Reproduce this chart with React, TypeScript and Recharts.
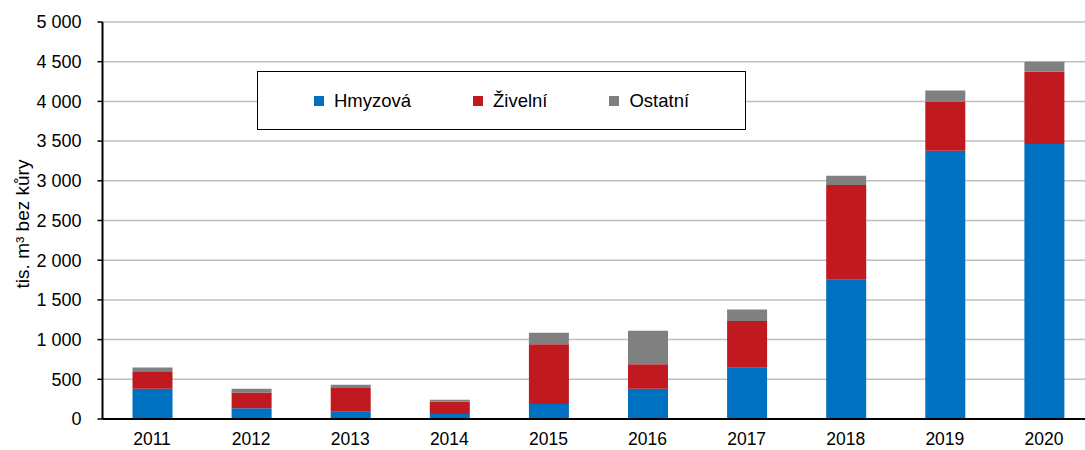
import { BarChart, Bar, XAxis, YAxis, CartesianGrid, Legend } from "recharts";

const years = ["2011", "2012", "2013", "2014", "2015", "2016", "2017", "2018", "2019", "2020"];
const hmyzova = [380, 135, 92, 63, 190, 382, 647, 1755, 3380, 3465];
const zivelni = [220, 200, 298, 155, 750, 306, 587, 1193, 620, 910];
const ostatni = [50, 47, 42, 25, 147, 424, 144, 117, 137, 125];
const yTicks = [0, 500, 1000, 1500, 2000, 2500, 3000, 3500, 4000, 4500, 5000];

const series = [
  { key: "hmyzova", name: "Hmyzová", color: "#0070C0" },
  { key: "zivelni", name: "Živelní", color: "#C0191F" },
  { key: "ostatni", name: "Ostatní", color: "#808080" },
];

const data = years.map((year, i) => ({
  year,
  hmyzova: hmyzova[i],
  zivelni: zivelni[i],
  ostatni: ostatni[i],
}));

const font = "'Liberation Sans', Arial, sans-serif";

const fmt = (v: number) => (v >= 1000 ? `${Math.floor(v / 1000)}\u00a0${String(v % 1000).padStart(3, "0")}` : String(v));

function LegendBox() {
  return (
    <div
      style={{
        boxSizing: "border-box",
        width: 489,
        height: 59,
        border: "1.5px solid #000",
        background: "#fff",
        display: "flex",
        alignItems: "center",
        justifyContent: "center",
        gap: 62,
        fontFamily: font,
        fontSize: 18.5,
        color: "#000",
      }}
    >
      {series.map((s) => (
        <div key={s.key} style={{ display: "flex", alignItems: "center" }}>
          <span style={{ width: 10, height: 10, background: s.color, marginRight: 10 }} />
          <span>{s.name}</span>
        </div>
      ))}
    </div>
  );
}

export default function App() {
  return (
    <div style={{ position: "fixed", left: 0, top: 0, width: 1085, height: 450, overflow: "hidden", background: "#fff" }}>
      <BarChart width={1100} height={450} data={data} margin={{ top: 22, right: 6.5, left: 0, bottom: 0 }}>
        <CartesianGrid vertical={false} stroke="#c0c0c0" strokeWidth={1.5} />
        <XAxis
          dataKey="year"
          height={31}
          tickLine={false}
          tickSize={0}
          tickMargin={14}
          axisLine={{ stroke: "#000", strokeWidth: 2 }}
          tick={{ fill: "#000", fontSize: 17.5, fontFamily: font }}
        />
        <YAxis
          width={102.5}
          domain={[0, 5000]}
          ticks={yTicks}
          interval={0}
          tickFormatter={fmt}
          tickSize={5}
          tickMargin={16}
          tickLine={{ stroke: "#000", strokeWidth: 1.5 }}
          axisLine={{ stroke: "#000", strokeWidth: 2 }}
          tick={{ fill: "#000", fontSize: 18, fontFamily: font }}
          label={{
            content: () => (
              <text
                x={22}
                y={224}
                transform="rotate(-90 22 224)"
                textAnchor="middle"
                dominantBaseline="central"
                fontSize={19}
                fontFamily={font}
                fill="#000"
              >
                tis. m³ bez kůry
              </text>
            ),
          }}
        />
        <Legend
          layout="horizontal"
          verticalAlign="middle"
          align="center"
          wrapperStyle={{ left: 257, top: 71, width: 489, height: 59 }}
          content={() => <LegendBox />}
        />
        {series.map((s) => (
          <Bar key={s.key} dataKey={s.key} name={s.name} stackId="a" fill={s.color} barSize={40} isAnimationActive={false} />
        ))}
      </BarChart>
    </div>
  );
}
